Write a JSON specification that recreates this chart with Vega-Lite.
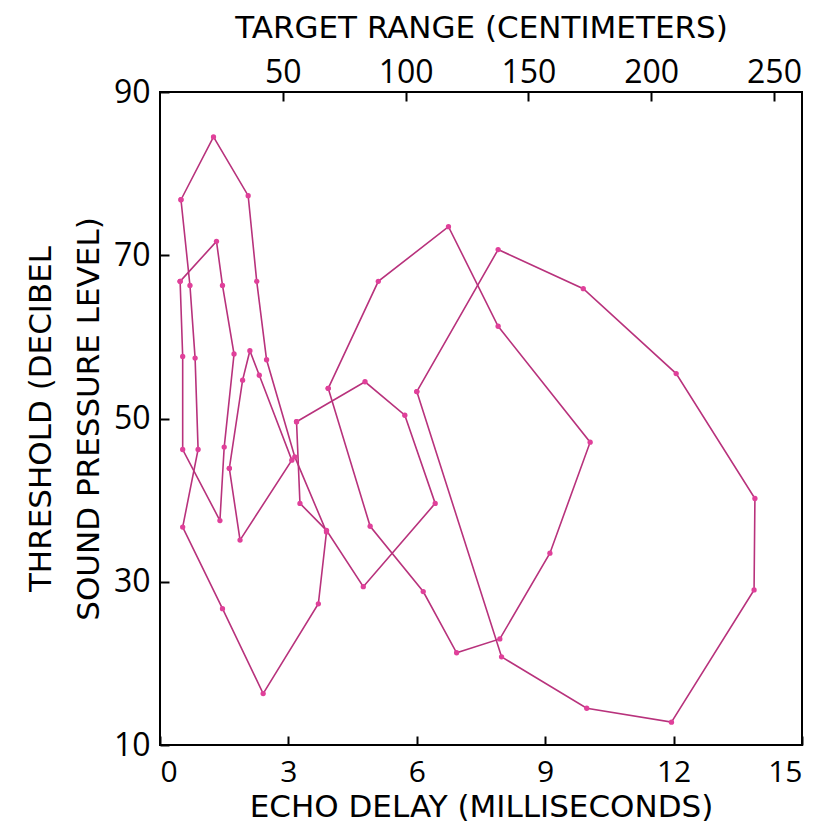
{
  "$schema": "https://vega.github.io/schema/vega-lite/v6.json",
  "width": 642,
  "height": 653,
  "autosize": {"type": "none"},
  "padding": {"left": 160, "top": 92, "right": 13, "bottom": 77},
  "background": "white",
  "config": {
    "view": {"stroke": "black", "strokeWidth": 2},
    "axis": {
      "labelFont": "Open Sans",
      "titleFont": "DejaVu Sans",
      "labelColor": "black",
      "titleColor": "black",
      "labelFontSize": 32,
      "titleFontSize": 31,
      "titleFontWeight": "normal",
      "domain": false,
      "offset": -9,
      "tickColor": "black",
      "tickWidth": 2,
      "tickSize": 9,
      "grid": false
    }
  },
  "datasets": {
    "curves": [
      {"c": 1, "i": 0, "delay": 0.49, "db": 76.8},
      {"c": 1, "i": 1, "delay": 1.25, "db": 84.5},
      {"c": 1, "i": 2, "delay": 2.06, "db": 77.3},
      {"c": 1, "i": 3, "delay": 2.26, "db": 66.8},
      {"c": 1, "i": 4, "delay": 2.49, "db": 57.2},
      {"c": 1, "i": 5, "delay": 3.15, "db": 45.3},
      {"c": 1, "i": 6, "delay": 3.89, "db": 36.1},
      {"c": 1, "i": 7, "delay": 3.70, "db": 27.3},
      {"c": 1, "i": 8, "delay": 2.41, "db": 16.3},
      {"c": 1, "i": 9, "delay": 1.46, "db": 26.7},
      {"c": 1, "i": 10, "delay": 0.53, "db": 36.7},
      {"c": 1, "i": 11, "delay": 0.89, "db": 46.2},
      {"c": 1, "i": 12, "delay": 0.82, "db": 57.4},
      {"c": 1, "i": 13, "delay": 0.70, "db": 66.3},
      {"c": 1, "i": 14, "delay": 0.49, "db": 76.8},
      {"c": 2, "i": 0, "delay": 0.47, "db": 66.8},
      {"c": 2, "i": 1, "delay": 1.32, "db": 71.7},
      {"c": 2, "i": 2, "delay": 1.46, "db": 66.3},
      {"c": 2, "i": 3, "delay": 1.73, "db": 57.9},
      {"c": 2, "i": 4, "delay": 1.50, "db": 46.5},
      {"c": 2, "i": 5, "delay": 1.40, "db": 37.5},
      {"c": 2, "i": 6, "delay": 0.53, "db": 46.2},
      {"c": 2, "i": 7, "delay": 0.53, "db": 57.6},
      {"c": 2, "i": 8, "delay": 0.47, "db": 66.8},
      {"c": 3, "i": 0, "delay": 1.62, "db": 43.9},
      {"c": 3, "i": 1, "delay": 1.93, "db": 54.7},
      {"c": 3, "i": 2, "delay": 2.10, "db": 58.3},
      {"c": 3, "i": 3, "delay": 2.32, "db": 55.3},
      {"c": 3, "i": 4, "delay": 3.08, "db": 44.9},
      {"c": 3, "i": 5, "delay": 1.87, "db": 35.1},
      {"c": 3, "i": 6, "delay": 1.62, "db": 43.9},
      {"c": 4, "i": 0, "delay": 3.19, "db": 49.6},
      {"c": 4, "i": 1, "delay": 4.79, "db": 54.5},
      {"c": 4, "i": 2, "delay": 5.72, "db": 50.4},
      {"c": 4, "i": 3, "delay": 6.43, "db": 39.6},
      {"c": 4, "i": 4, "delay": 4.75, "db": 29.4},
      {"c": 4, "i": 5, "delay": 3.89, "db": 36.3},
      {"c": 4, "i": 6, "delay": 3.27, "db": 39.6},
      {"c": 4, "i": 7, "delay": 3.19, "db": 49.6},
      {"c": 5, "i": 0, "delay": 3.93, "db": 53.7},
      {"c": 5, "i": 1, "delay": 5.10, "db": 66.8},
      {"c": 5, "i": 2, "delay": 6.74, "db": 73.5},
      {"c": 5, "i": 3, "delay": 7.90, "db": 61.3},
      {"c": 5, "i": 4, "delay": 10.05, "db": 47.1},
      {"c": 5, "i": 5, "delay": 9.11, "db": 33.5},
      {"c": 5, "i": 6, "delay": 7.94, "db": 23.0},
      {"c": 5, "i": 7, "delay": 6.93, "db": 21.3},
      {"c": 5, "i": 8, "delay": 6.15, "db": 28.8},
      {"c": 5, "i": 9, "delay": 4.91, "db": 36.8},
      {"c": 5, "i": 10, "delay": 3.93, "db": 53.7},
      {"c": 6, "i": 0, "delay": 6.00, "db": 53.3},
      {"c": 6, "i": 1, "delay": 7.90, "db": 70.7},
      {"c": 6, "i": 2, "delay": 9.89, "db": 65.9},
      {"c": 6, "i": 3, "delay": 12.06, "db": 55.5},
      {"c": 6, "i": 4, "delay": 13.90, "db": 40.2},
      {"c": 6, "i": 5, "delay": 13.88, "db": 29.0},
      {"c": 6, "i": 6, "delay": 11.95, "db": 12.8},
      {"c": 6, "i": 7, "delay": 9.97, "db": 14.5},
      {"c": 6, "i": 8, "delay": 7.98, "db": 20.8},
      {"c": 6, "i": 9, "delay": 6.00, "db": 53.3}
    ],
    "rangeTicks": [
      {"cm": 50}, {"cm": 100}, {"cm": 150}, {"cm": 200}, {"cm": 250}
    ]
  },
  "layer": [
    {
      "data": {"name": "curves"},
      "layer": [
        {
          "mark": {"type": "line", "color": "#b8327c", "strokeWidth": 1.6},
          "encoding": {
            "x": {"field": "delay", "type": "quantitative", "scale": {"domain": [0, 15], "nice": false, "zero": false},
                  "axis": {"orient": "bottom", "values": [0, 3, 6, 9, 12, 15], "title": "ECHO DELAY (MILLISECONDS)", "labelFontSize": 30, "labelPadding": 12, "titleY": 71, "titleBaseline": "middle", "labelFlush": true}},
            "y": {"field": "db", "type": "quantitative", "scale": {"domain": [10, 90], "nice": false, "zero": false},
                  "axis": {"values": [10, 30, 50, 70, 90], "title": ["THRESHOLD (DECIBEL", "SOUND PRESSURE LEVEL)"], "titleLineHeight": 48, "labelPadding": 10, "titlePadding": 8}},
            "detail": {"field": "c"},
            "order": {"field": "i", "type": "quantitative"}
          }
        },
        {
          "mark": {"type": "point", "filled": true, "color": "#e0409a", "size": 28, "opacity": 1},
          "encoding": {
            "x": {"field": "delay", "type": "quantitative"},
            "y": {"field": "db", "type": "quantitative"}
          }
        }
      ]
    },
    {
      "data": {"name": "rangeTicks"},
      "mark": {"type": "point", "opacity": 0},
      "encoding": {
        "x": {"field": "cm", "type": "quantitative", "scale": {"domain": [0, 261.4], "nice": false, "zero": false},
              "axis": {"orient": "top", "values": [50, 100, 150, 200, 250], "title": "TARGET RANGE (CENTIMETERS)", "labelPadding": 3, "titlePadding": 12}}
      }
    }
  ],
  "resolve": {"scale": {"x": "independent"}, "axis": {"x": "independent"}}
}
